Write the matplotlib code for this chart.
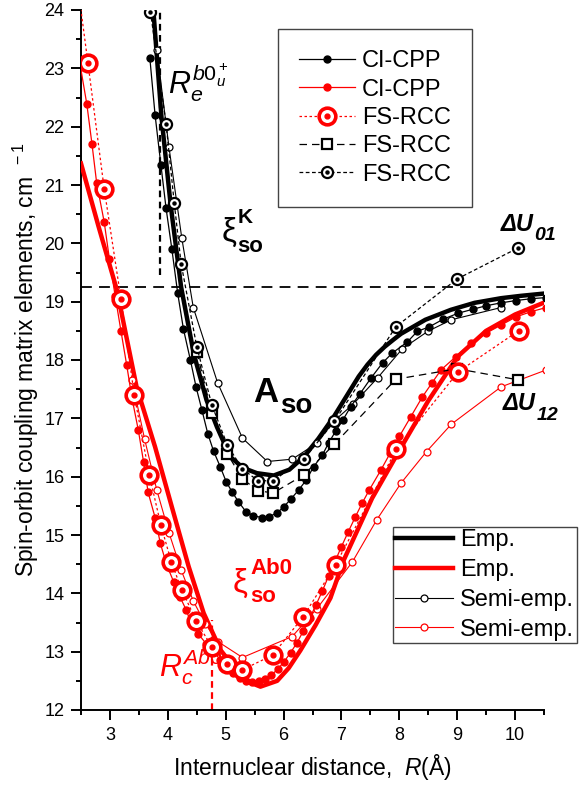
import matplotlib
matplotlib.use("Agg")
import matplotlib.pyplot as plt
from matplotlib.legend_handler import HandlerTuple

plt.rcParams['font.family'] = ['Liberation Sans', 'DejaVu Sans']
plt.rcParams['mathtext.fontset'] = 'custom'
plt.rcParams['mathtext.rm'] = 'Liberation Sans'
plt.rcParams['mathtext.it'] = 'Liberation Sans:italic'
plt.rcParams['mathtext.bf'] = 'Liberation Sans:bold'

# ---------------- data (R in Angstrom, values in cm^-1) ----------------
# Black (A_so) series
ci_black_x = [3.69, 3.78, 3.88, 3.97, 4.07, 4.17, 4.27, 4.39, 4.49, 4.59, 4.69, 4.79, 4.91, 5.01,
              5.11, 5.22, 5.35, 5.48, 5.62, 5.74, 5.89, 6.00, 6.13, 6.26, 6.39, 6.52, 6.67, 6.78,
              6.90, 7.03, 7.16, 7.32, 7.51, 7.71, 7.88, 8.14, 8.31, 8.52, 8.76, 9.01, 9.27, 9.50,
              9.76, 10.02, 10.27, 10.53]
ci_black_y = [23.17, 22.20, 21.35, 20.60, 19.90, 19.15, 18.53, 18.00, 17.53, 17.14, 16.74, 16.44,
              16.16, 15.91, 15.74, 15.57, 15.40, 15.33, 15.30, 15.31, 15.38, 15.48, 15.62, 15.77,
              15.94, 16.17, 16.37, 16.58, 16.78, 16.98, 17.20, 17.42, 17.69, 17.95, 18.12, 18.31,
              18.49, 18.57, 18.70, 18.80, 18.87, 18.93, 18.98, 19.02, 19.05, 19.07]

fs_sq_x = [4.50, 4.76, 5.03, 5.29, 5.56, 5.82, 6.35, 6.88, 7.94, 9.00, 10.05]
fs_sq_y = [18.14, 17.09, 16.39, 15.96, 15.76, 15.72, 16.03, 16.56, 17.67, 17.85, 17.66]

fs_cd_x = [3.70, 3.97, 4.11, 4.23, 4.50, 4.76, 5.03, 5.29, 5.56, 5.82, 6.35, 6.88, 7.94, 9.00, 10.05]
fs_cd_y = [23.97, 22.05, 20.70, 19.65, 18.23, 17.23, 16.54, 16.13, 15.93, 15.93, 16.30, 16.95,
           18.57, 19.39, 19.92]

emp_black_x = [3.75, 3.89, 4.05, 4.23, 4.45, 4.67, 4.85, 5.08, 5.30, 5.54, 5.83, 6.10, 6.35, 6.60,
               6.87, 7.15, 7.30, 7.45, 7.60, 7.75, 7.90, 8.03, 8.45, 8.89, 9.30, 9.76, 10.10, 10.51]
emp_black_y = [24.00, 22.17, 20.65, 19.25, 18.10, 17.31, 16.85, 16.34, 16.15, 16.06, 16.02, 16.12,
               16.34, 16.65, 17.03, 17.48, 17.72, 17.92, 18.09, 18.23, 18.35, 18.45, 18.69, 18.86,
               18.98, 19.06, 19.10, 19.14]

semi_black_x = [3.81, 4.02, 4.24, 4.44, 4.86, 5.29, 5.72, 6.15, 6.57, 6.89, 7.20, 7.63, 8.05, 8.49,
                8.90, 9.76]
semi_black_y = [23.31, 21.65, 20.10, 18.90, 17.61, 16.66, 16.26, 16.30, 16.57, 16.97, 17.24, 17.70,
                18.19, 18.49, 18.69, 18.90]

# Red (xi_so^Ab0) series
ci_red_x = [2.48, 2.60, 2.69, 2.77, 2.90, 2.99, 3.09, 3.19, 3.29, 3.38, 3.49, 3.58, 3.66, 3.78,
            3.87, 3.98, 4.10, 4.21, 4.32, 4.40, 4.53, 4.66, 4.79, 4.91, 5.02, 5.13, 5.24, 5.35,
            5.46, 5.57, 5.68, 5.79, 5.90, 6.01, 6.12, 6.23, 6.34, 6.45, 6.56, 6.67, 6.78, 6.89,
            7.00, 7.12, 7.24, 7.36, 7.48, 7.68, 7.84, 8.00, 8.20, 8.40, 8.56, 8.72, 8.98, 9.24,
            9.50, 9.76, 10.02, 10.28, 10.54]
ci_red_y = [23.09, 22.39, 21.70, 21.04, 20.37, 19.74, 19.10, 18.50, 17.91, 17.35, 16.80, 16.26,
            15.73, 15.30, 14.86, 14.49, 14.20, 13.94, 13.71, 13.49, 13.30, 13.14, 13.00, 12.86,
            12.74, 12.63, 12.55, 12.50, 12.48, 12.49, 12.53, 12.60, 12.70, 12.83, 12.98, 13.15,
            13.35, 13.57, 13.80, 14.04, 14.30, 14.55, 14.80, 15.06, 15.31, 15.55, 15.77, 16.11,
            16.40, 16.69, 17.03, 17.37, 17.60, 17.83, 18.06, 18.29, 18.46, 18.60, 18.74, 18.83,
            18.90]

fs_red_x = [2.38, 2.62, 2.90, 3.19, 3.42, 3.68, 3.88, 4.06, 4.24, 4.49, 4.76, 5.02, 5.29, 5.81,
            6.34, 6.90, 7.95, 9.02, 10.06]
fs_red_y = [24.90, 23.09, 20.94, 19.05, 17.40, 16.03, 15.17, 14.54, 14.06, 13.53, 13.08, 12.79,
            12.69, 12.94, 13.60, 14.49, 16.47, 17.80, 18.50]

emp_red_x = [2.50, 2.80, 3.12, 3.46, 3.78, 4.07, 4.36, 4.62, 4.91, 5.20, 5.40, 5.60, 5.89, 6.09,
             6.29, 6.55, 6.81, 7.04, 7.53, 8.03, 8.50, 9.01, 9.50, 10.00, 10.54]
emp_red_y = [21.37, 20.30, 19.20, 17.54, 16.51, 15.48, 14.46, 13.66, 13.03, 12.66, 12.48, 12.40,
             12.50, 12.72, 13.02, 13.45, 13.92, 14.57, 15.63, 16.50, 17.30, 18.06, 18.50, 18.78,
             19.00]

semi_red_x = [3.38, 3.60, 3.81, 4.02, 4.23, 4.44, 4.65, 4.87, 5.29, 6.15, 6.57, 7.19, 7.61, 8.03,
              8.47, 8.90, 9.76, 10.54]
semi_red_y = [17.66, 16.64, 15.77, 15.04, 14.40, 13.87, 13.47, 13.17, 12.90, 13.26, 13.73, 14.54,
              15.26, 15.89, 16.43, 16.90, 17.54, 17.83]

# reference lines
xi_K_level = 19.25
Re_x = 3.87
Rc_x = 4.76

x_ticks = [3, 4, 5, 6, 7, 8, 9, 10]
y_ticks = [12, 13, 14, 15, 16, 17, 18, 19, 20, 21, 22, 23, 24]

# ---------------- figure ----------------
W, H = 588, 793
fig = plt.figure(figsize=(W / 100, H / 100), dpi=100)
ax = fig.add_axes([81 / W, 1 - 710 / H, (544 - 81) / W, (710 - 10) / H])
ax.set_xlim(2.5, 10.5)
ax.set_ylim(12, 24)

RED = '#ff0000'

# reference dashed lines
ax.plot([2.5, 10.45], [xi_K_level, xi_K_level], color='black', lw=1.3, ls=(0, (6, 4)), zorder=1)
ax.plot([Re_x, Re_x], [19.45, 24], color='black', lw=1.6, ls=(0, (3, 2)), zorder=1)
ax.plot([Rc_x, Rc_x], [12, 13.55], color=RED, lw=1.6, ls=(0, (3, 2)), zorder=1)

# black series
l_emp_b, = ax.plot(emp_black_x, emp_black_y, color='black', lw=3.2, zorder=3)
l_semi_b, = ax.plot(semi_black_x, semi_black_y, color='black', lw=0.8, marker='o', ms=5,
                    mfc='white', mec='black', mew=0.9, zorder=4)
l_ci_b, = ax.plot(ci_black_x, ci_black_y, color='black', lw=0.9, marker='o', ms=5,
                  mfc='black', mec='black', zorder=4)
l_sq, = ax.plot(fs_sq_x, fs_sq_y, color='black', lw=0.9, ls=(0, (6, 4)), marker='s', ms=7,
                mfc='white', mec='black', mew=1.6, zorder=5)
l_cd, = ax.plot(fs_cd_x, fs_cd_y, color='black', lw=0.9, ls=(0, (3, 2)), marker='o', ms=8,
                mfc='white', mec='black', mew=1.6, zorder=5)
l_cd2, = ax.plot(fs_cd_x, fs_cd_y, ls='none', marker='o', ms=2.2, mfc='black', mec='black',
                 zorder=6)

# red series
l_emp_r, = ax.plot(emp_red_x, emp_red_y, color=RED, lw=3.2, zorder=3)
l_semi_r, = ax.plot(semi_red_x, semi_red_y, color=RED, lw=0.8, marker='o', ms=5,
                    mfc='white', mec=RED, mew=0.9, zorder=4)
l_ci_r, = ax.plot(ci_red_x, ci_red_y, color=RED, lw=0.9, marker='o', ms=5,
                  mfc=RED, mec=RED, zorder=4)
l_fs_r, = ax.plot(fs_red_x, fs_red_y, color=RED, lw=0.9, ls=(0, (2, 2)), marker='o', ms=12,
                  mfc='white', mec=RED, mew=2.6, zorder=6)
l_fs_r2, = ax.plot(fs_red_x, fs_red_y, ls='none', marker='o', ms=3.5, mfc=RED, mec=RED, zorder=7)

# axes styling
for s in ['top', 'right']:
    ax.spines[s].set_visible(False)
for s in ['left', 'bottom']:
    ax.spines[s].set_linewidth(1.4)
ax.set_xticks(x_ticks)
ax.set_yticks(y_ticks)
ax.set_xticks([2.5 + 0.5 * i for i in range(17)], minor=True)
ax.set_yticks([12 + 0.5 * i for i in range(25)], minor=True)
ax.tick_params(which='major', direction='out', length=7, width=1.4, labelsize=13, pad=5)
ax.tick_params(which='minor', direction='out', length=3.5, width=1.4)

ax.set_xlabel('Internuclear distance,  $\\it{R}$(Å)', fontsize=16.5, labelpad=6)
ax.set_ylabel('Spin-orbit coupling matrix elements, cm$^{\\ \\ -1}$', fontsize=16.5, labelpad=2)

# helper: data coords from reference pixels
def px2x(px):
    return 3 + (px - 110) / 57.7

def px2y(py):
    return 24 - (py - 10) / 58.33

# annotations
ax.text(px2x(168), px2y(93), r'$R_e^{b0_u^+}$', fontsize=22, color='black',
        ha='left', va='baseline')
ax.text(px2x(221), px2y(217), 'ξ', fontsize=24, color='black', ha='left', va='top')
ax.text(px2x(237), px2y(208), 'K', fontsize=15, fontweight='bold', ha='left', va='top')
ax.text(px2x(237), px2y(252), 'so', fontsize=16, fontweight='bold', ha='left', va='baseline')

ax.text(px2x(253), px2y(402), 'A', fontsize=25, fontweight='bold', ha='left', va='baseline')
ax.text(px2x(280), px2y(413), 'so', fontsize=20, fontweight='bold', ha='left', va='baseline')

ax.text(px2x(232), px2y(568), 'ξ', fontsize=24, color=RED, ha='left', va='top')
ax.text(px2x(250), px2y(558), 'Ab0', fontsize=16, fontweight='bold', color=RED, ha='left',
        va='top')
ax.text(px2x(250), px2y(602), 'so', fontsize=16, fontweight='bold', color=RED, ha='left',
        va='baseline')
ax.text(px2x(159), px2y(676), r'$R_c^{Ab0}$', fontsize=22, color=RED, ha='left',
        va='baseline', zorder=2)

ax.text(px2x(500), px2y(231), 'ΔU', fontsize=17, fontweight='bold', fontstyle='italic',
        ha='left', va='baseline')
ax.text(px2x(533), px2y(240), '01', fontsize=14, fontweight='bold', fontstyle='italic',
        ha='left', va='baseline')
ax.text(px2x(502), px2y(410), 'ΔU', fontsize=17, fontweight='bold', fontstyle='italic',
        ha='left', va='baseline')
ax.text(px2x(535), px2y(420), '12', fontsize=14, fontweight='bold', fontstyle='italic',
        ha='left', va='baseline')

# legends
leg1 = fig.legend([l_ci_b, l_ci_r, (l_fs_r, l_fs_r2), l_sq, (l_cd, l_cd2)],
                  ['CI-CPP', 'CI-CPP', 'FS-RCC', 'FS-RCC', 'FS-RCC'],
                  handler_map={tuple: HandlerTuple(ndivide=1, pad=0)},
                  loc='upper left', bbox_to_anchor=(278 / W, 1 - 29 / H),
                  bbox_transform=fig.transFigure, borderaxespad=0, fontsize=17,
                  frameon=True, fancybox=False, edgecolor='#444444', framealpha=1,
                  handlelength=2.35, labelspacing=0.27, borderpad=0.9, handletextpad=0.3,
                  markerscale=1.0)
leg1.get_frame().set_linewidth(1.0)
leg2 = fig.legend([l_emp_b, l_emp_r, l_semi_b, l_semi_r],
                  ['Emp.', 'Emp.', 'Semi-emp.', 'Semi-emp.'],
                  loc='lower left', bbox_to_anchor=(393 / W, 1 - 643 / H),
                  bbox_transform=fig.transFigure, borderaxespad=0, fontsize=17,
                  frameon=True, fancybox=False, edgecolor='#444444', framealpha=1,
                  handlelength=2.45, labelspacing=0.33, borderpad=0.1, handletextpad=0.3)
leg2.get_frame().set_linewidth(1.0)

fig.savefig('out.png', dpi=100)
